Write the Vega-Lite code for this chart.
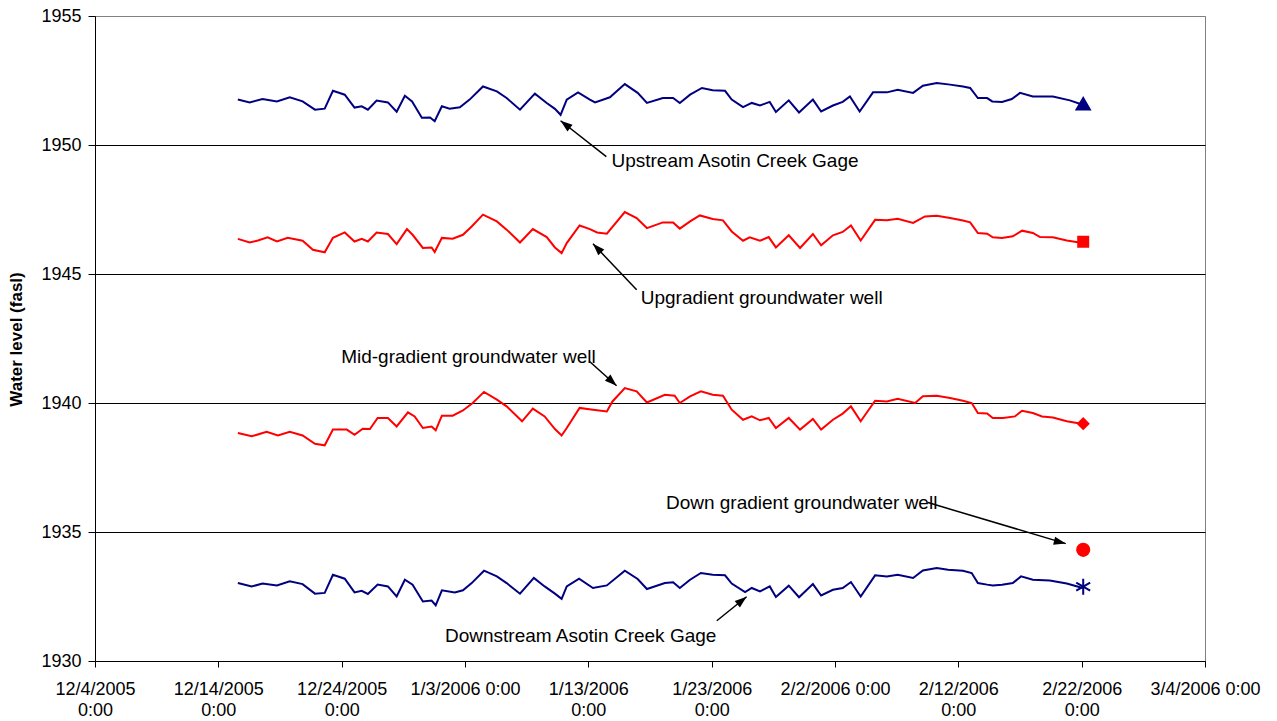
{
  "$schema": "https://vega.github.io/schema/vega-lite/v6.json",
  "width": 1110,
  "height": 645,
  "autosize": "none",
  "padding": {"left": 95, "top": 16, "right": 72, "bottom": 60},
  "background": "white",
  "config": {
    "font": "Liberation Sans",
    "view": {"stroke": "#808080", "strokeWidth": 1},
    "axis": {"labelFont": "Liberation Sans", "titleFont": "Liberation Sans", "labelColor": "black", "titleColor": "black"}
  },
  "datasets": {
    "levels": [
      {"t": "2005-12-15T14:00Z", "s": "Upstream", "v": 1951.76},
      {"t": "2005-12-16T13:00Z", "s": "Upstream", "v": 1951.65},
      {"t": "2005-12-17T14:00Z", "s": "Upstream", "v": 1951.78},
      {"t": "2005-12-18T18:00Z", "s": "Upstream", "v": 1951.69},
      {"t": "2005-12-19T19:00Z", "s": "Upstream", "v": 1951.85},
      {"t": "2005-12-20T20:00Z", "s": "Upstream", "v": 1951.69},
      {"t": "2005-12-21T20:00Z", "s": "Upstream", "v": 1951.37},
      {"t": "2005-12-22T15:00Z", "s": "Upstream", "v": 1951.41},
      {"t": "2005-12-23T07:00Z", "s": "Upstream", "v": 1952.10},
      {"t": "2005-12-24T06:00Z", "s": "Upstream", "v": 1951.95},
      {"t": "2005-12-25T01:00Z", "s": "Upstream", "v": 1951.45},
      {"t": "2005-12-25T15:00Z", "s": "Upstream", "v": 1951.50},
      {"t": "2005-12-26T03:00Z", "s": "Upstream", "v": 1951.37},
      {"t": "2005-12-26T20:00Z", "s": "Upstream", "v": 1951.72},
      {"t": "2005-12-27T18:00Z", "s": "Upstream", "v": 1951.65},
      {"t": "2005-12-28T11:00Z", "s": "Upstream", "v": 1951.29},
      {"t": "2005-12-29T03:00Z", "s": "Upstream", "v": 1951.91},
      {"t": "2005-12-29T17:00Z", "s": "Upstream", "v": 1951.69},
      {"t": "2005-12-30T12:00Z", "s": "Upstream", "v": 1951.06},
      {"t": "2005-12-31T04:00Z", "s": "Upstream", "v": 1951.07},
      {"t": "2005-12-31T13:00Z", "s": "Upstream", "v": 1950.92},
      {"t": "2006-01-01T03:00Z", "s": "Upstream", "v": 1951.50},
      {"t": "2006-01-01T18:00Z", "s": "Upstream", "v": 1951.41},
      {"t": "2006-01-02T14:00Z", "s": "Upstream", "v": 1951.46},
      {"t": "2006-01-03T09:00Z", "s": "Upstream", "v": 1951.76},
      {"t": "2006-01-04T11:00Z", "s": "Upstream", "v": 1952.27},
      {"t": "2006-01-05T14:00Z", "s": "Upstream", "v": 1952.08},
      {"t": "2006-01-06T09:00Z", "s": "Upstream", "v": 1951.82},
      {"t": "2006-01-07T11:00Z", "s": "Upstream", "v": 1951.37},
      {"t": "2006-01-08T16:00Z", "s": "Upstream", "v": 1951.99},
      {"t": "2006-01-09T15:00Z", "s": "Upstream", "v": 1951.63},
      {"t": "2006-01-10T07:00Z", "s": "Upstream", "v": 1951.40},
      {"t": "2006-01-10T18:00Z", "s": "Upstream", "v": 1951.17},
      {"t": "2006-01-11T06:00Z", "s": "Upstream", "v": 1951.76},
      {"t": "2006-01-12T04:00Z", "s": "Upstream", "v": 1952.04},
      {"t": "2006-01-13T03:00Z", "s": "Upstream", "v": 1951.76},
      {"t": "2006-01-13T13:00Z", "s": "Upstream", "v": 1951.65},
      {"t": "2006-01-14T18:00Z", "s": "Upstream", "v": 1951.85},
      {"t": "2006-01-15T23:00Z", "s": "Upstream", "v": 1952.36},
      {"t": "2006-01-17T00:00Z", "s": "Upstream", "v": 1952.02},
      {"t": "2006-01-17T18:00Z", "s": "Upstream", "v": 1951.63},
      {"t": "2006-01-19T01:00Z", "s": "Upstream", "v": 1951.82},
      {"t": "2006-01-19T21:00Z", "s": "Upstream", "v": 1951.82},
      {"t": "2006-01-20T10:00Z", "s": "Upstream", "v": 1951.63},
      {"t": "2006-01-21T06:00Z", "s": "Upstream", "v": 1951.95},
      {"t": "2006-01-22T05:00Z", "s": "Upstream", "v": 1952.21},
      {"t": "2006-01-23T02:00Z", "s": "Upstream", "v": 1952.12},
      {"t": "2006-01-24T02:00Z", "s": "Upstream", "v": 1952.10},
      {"t": "2006-01-24T15:00Z", "s": "Upstream", "v": 1951.76},
      {"t": "2006-01-25T13:00Z", "s": "Upstream", "v": 1951.47},
      {"t": "2006-01-26T06:00Z", "s": "Upstream", "v": 1951.63},
      {"t": "2006-01-26T22:00Z", "s": "Upstream", "v": 1951.53},
      {"t": "2006-01-27T17:00Z", "s": "Upstream", "v": 1951.67},
      {"t": "2006-01-28T05:00Z", "s": "Upstream", "v": 1951.28},
      {"t": "2006-01-29T06:00Z", "s": "Upstream", "v": 1951.73},
      {"t": "2006-01-30T02:00Z", "s": "Upstream", "v": 1951.26},
      {"t": "2006-01-31T05:00Z", "s": "Upstream", "v": 1951.76},
      {"t": "2006-01-31T21:00Z", "s": "Upstream", "v": 1951.30},
      {"t": "2006-02-01T20:00Z", "s": "Upstream", "v": 1951.53},
      {"t": "2006-02-02T15:00Z", "s": "Upstream", "v": 1951.67},
      {"t": "2006-02-03T05:00Z", "s": "Upstream", "v": 1951.88},
      {"t": "2006-02-04T00:00Z", "s": "Upstream", "v": 1951.30},
      {"t": "2006-02-05T02:00Z", "s": "Upstream", "v": 1952.04},
      {"t": "2006-02-06T05:00Z", "s": "Upstream", "v": 1952.04},
      {"t": "2006-02-07T02:00Z", "s": "Upstream", "v": 1952.14},
      {"t": "2006-02-08T08:00Z", "s": "Upstream", "v": 1952.02},
      {"t": "2006-02-09T03:00Z", "s": "Upstream", "v": 1952.30},
      {"t": "2006-02-10T06:00Z", "s": "Upstream", "v": 1952.40},
      {"t": "2006-02-11T08:00Z", "s": "Upstream", "v": 1952.34},
      {"t": "2006-02-12T09:00Z", "s": "Upstream", "v": 1952.27},
      {"t": "2006-02-12T23:00Z", "s": "Upstream", "v": 1952.21},
      {"t": "2006-02-13T14:00Z", "s": "Upstream", "v": 1951.82},
      {"t": "2006-02-14T08:00Z", "s": "Upstream", "v": 1951.82},
      {"t": "2006-02-14T18:00Z", "s": "Upstream", "v": 1951.69},
      {"t": "2006-02-15T13:00Z", "s": "Upstream", "v": 1951.67},
      {"t": "2006-02-16T08:00Z", "s": "Upstream", "v": 1951.78},
      {"t": "2006-02-17T00:00Z", "s": "Upstream", "v": 1952.02},
      {"t": "2006-02-18T01:00Z", "s": "Upstream", "v": 1951.88},
      {"t": "2006-02-19T16:00Z", "s": "Upstream", "v": 1951.88},
      {"t": "2006-02-21T01:00Z", "s": "Upstream", "v": 1951.73},
      {"t": "2006-02-22T02:00Z", "s": "Upstream", "v": 1951.56},

      {"t": "2005-12-15T14:00Z", "s": "Upgradient", "v": 1946.36},
      {"t": "2005-12-16T13:00Z", "s": "Upgradient", "v": 1946.22},
      {"t": "2005-12-17T05:00Z", "s": "Upgradient", "v": 1946.30},
      {"t": "2005-12-18T00:00Z", "s": "Upgradient", "v": 1946.42},
      {"t": "2005-12-18T18:00Z", "s": "Upgradient", "v": 1946.26},
      {"t": "2005-12-19T15:00Z", "s": "Upgradient", "v": 1946.40},
      {"t": "2005-12-20T20:00Z", "s": "Upgradient", "v": 1946.29},
      {"t": "2005-12-21T16:00Z", "s": "Upgradient", "v": 1945.94},
      {"t": "2005-12-22T15:00Z", "s": "Upgradient", "v": 1945.84},
      {"t": "2005-12-23T07:00Z", "s": "Upgradient", "v": 1946.40},
      {"t": "2005-12-24T06:00Z", "s": "Upgradient", "v": 1946.61},
      {"t": "2005-12-25T01:00Z", "s": "Upgradient", "v": 1946.26},
      {"t": "2005-12-25T15:00Z", "s": "Upgradient", "v": 1946.36},
      {"t": "2005-12-26T03:00Z", "s": "Upgradient", "v": 1946.26},
      {"t": "2005-12-26T20:00Z", "s": "Upgradient", "v": 1946.61},
      {"t": "2005-12-27T18:00Z", "s": "Upgradient", "v": 1946.55},
      {"t": "2005-12-28T11:00Z", "s": "Upgradient", "v": 1946.16},
      {"t": "2005-12-29T07:00Z", "s": "Upgradient", "v": 1946.74},
      {"t": "2005-12-29T18:00Z", "s": "Upgradient", "v": 1946.52},
      {"t": "2005-12-30T14:00Z", "s": "Upgradient", "v": 1946.01},
      {"t": "2005-12-31T07:00Z", "s": "Upgradient", "v": 1946.03},
      {"t": "2005-12-31T13:00Z", "s": "Upgradient", "v": 1945.85},
      {"t": "2006-01-01T03:00Z", "s": "Upgradient", "v": 1946.40},
      {"t": "2006-01-02T00:00Z", "s": "Upgradient", "v": 1946.37},
      {"t": "2006-01-02T20:00Z", "s": "Upgradient", "v": 1946.52},
      {"t": "2006-01-03T13:00Z", "s": "Upgradient", "v": 1946.84},
      {"t": "2006-01-04T11:00Z", "s": "Upgradient", "v": 1947.30},
      {"t": "2006-01-05T14:00Z", "s": "Upgradient", "v": 1947.04},
      {"t": "2006-01-06T09:00Z", "s": "Upgradient", "v": 1946.72},
      {"t": "2006-01-07T11:00Z", "s": "Upgradient", "v": 1946.22},
      {"t": "2006-01-08T12:00Z", "s": "Upgradient", "v": 1946.74},
      {"t": "2006-01-09T15:00Z", "s": "Upgradient", "v": 1946.43},
      {"t": "2006-01-10T07:00Z", "s": "Upgradient", "v": 1946.03},
      {"t": "2006-01-10T20:00Z", "s": "Upgradient", "v": 1945.81},
      {"t": "2006-01-11T06:00Z", "s": "Upgradient", "v": 1946.20},
      {"t": "2006-01-12T07:00Z", "s": "Upgradient", "v": 1946.88},
      {"t": "2006-01-13T03:00Z", "s": "Upgradient", "v": 1946.74},
      {"t": "2006-01-13T17:00Z", "s": "Upgradient", "v": 1946.61},
      {"t": "2006-01-14T12:00Z", "s": "Upgradient", "v": 1946.56},
      {"t": "2006-01-15T23:00Z", "s": "Upgradient", "v": 1947.40},
      {"t": "2006-01-16T22:00Z", "s": "Upgradient", "v": 1947.17},
      {"t": "2006-01-17T18:00Z", "s": "Upgradient", "v": 1946.78},
      {"t": "2006-01-19T01:00Z", "s": "Upgradient", "v": 1947.00},
      {"t": "2006-01-19T21:00Z", "s": "Upgradient", "v": 1947.00},
      {"t": "2006-01-20T10:00Z", "s": "Upgradient", "v": 1946.76},
      {"t": "2006-01-21T06:00Z", "s": "Upgradient", "v": 1947.04},
      {"t": "2006-01-22T01:00Z", "s": "Upgradient", "v": 1947.27},
      {"t": "2006-01-23T02:00Z", "s": "Upgradient", "v": 1947.13},
      {"t": "2006-01-23T22:00Z", "s": "Upgradient", "v": 1947.08},
      {"t": "2006-01-24T15:00Z", "s": "Upgradient", "v": 1946.65},
      {"t": "2006-01-25T13:00Z", "s": "Upgradient", "v": 1946.29},
      {"t": "2006-01-26T02:00Z", "s": "Upgradient", "v": 1946.42},
      {"t": "2006-01-26T22:00Z", "s": "Upgradient", "v": 1946.29},
      {"t": "2006-01-27T15:00Z", "s": "Upgradient", "v": 1946.43},
      {"t": "2006-01-28T05:00Z", "s": "Upgradient", "v": 1946.03},
      {"t": "2006-01-29T06:00Z", "s": "Upgradient", "v": 1946.50},
      {"t": "2006-01-30T04:00Z", "s": "Upgradient", "v": 1946.01},
      {"t": "2006-01-31T05:00Z", "s": "Upgradient", "v": 1946.55},
      {"t": "2006-01-31T21:00Z", "s": "Upgradient", "v": 1946.11},
      {"t": "2006-02-01T20:00Z", "s": "Upgradient", "v": 1946.50},
      {"t": "2006-02-02T15:00Z", "s": "Upgradient", "v": 1946.63},
      {"t": "2006-02-03T07:00Z", "s": "Upgradient", "v": 1946.88},
      {"t": "2006-02-04T02:00Z", "s": "Upgradient", "v": 1946.30},
      {"t": "2006-02-05T06:00Z", "s": "Upgradient", "v": 1947.10},
      {"t": "2006-02-06T05:00Z", "s": "Upgradient", "v": 1947.08},
      {"t": "2006-02-07T02:00Z", "s": "Upgradient", "v": 1947.14},
      {"t": "2006-02-08T08:00Z", "s": "Upgradient", "v": 1946.98},
      {"t": "2006-02-09T07:00Z", "s": "Upgradient", "v": 1947.23},
      {"t": "2006-02-10T06:00Z", "s": "Upgradient", "v": 1947.26},
      {"t": "2006-02-11T08:00Z", "s": "Upgradient", "v": 1947.17},
      {"t": "2006-02-12T09:00Z", "s": "Upgradient", "v": 1947.07},
      {"t": "2006-02-12T23:00Z", "s": "Upgradient", "v": 1947.00},
      {"t": "2006-02-13T14:00Z", "s": "Upgradient", "v": 1946.59},
      {"t": "2006-02-14T08:00Z", "s": "Upgradient", "v": 1946.56},
      {"t": "2006-02-14T19:00Z", "s": "Upgradient", "v": 1946.42},
      {"t": "2006-02-15T13:00Z", "s": "Upgradient", "v": 1946.40},
      {"t": "2006-02-16T10:00Z", "s": "Upgradient", "v": 1946.46},
      {"t": "2006-02-17T04:00Z", "s": "Upgradient", "v": 1946.68},
      {"t": "2006-02-18T01:00Z", "s": "Upgradient", "v": 1946.59},
      {"t": "2006-02-18T15:00Z", "s": "Upgradient", "v": 1946.43},
      {"t": "2006-02-19T16:00Z", "s": "Upgradient", "v": 1946.42},
      {"t": "2006-02-20T19:00Z", "s": "Upgradient", "v": 1946.30},
      {"t": "2006-02-22T02:00Z", "s": "Upgradient", "v": 1946.20},

      {"t": "2005-12-15T14:00Z", "s": "Midgradient", "v": 1938.84},
      {"t": "2005-12-16T17:00Z", "s": "Midgradient", "v": 1938.71},
      {"t": "2005-12-17T22:00Z", "s": "Midgradient", "v": 1938.88},
      {"t": "2005-12-18T20:00Z", "s": "Midgradient", "v": 1938.74},
      {"t": "2005-12-19T19:00Z", "s": "Midgradient", "v": 1938.88},
      {"t": "2005-12-20T20:00Z", "s": "Midgradient", "v": 1938.74},
      {"t": "2005-12-21T20:00Z", "s": "Midgradient", "v": 1938.42},
      {"t": "2005-12-22T15:00Z", "s": "Midgradient", "v": 1938.36},
      {"t": "2005-12-23T07:00Z", "s": "Midgradient", "v": 1938.97},
      {"t": "2005-12-24T10:00Z", "s": "Midgradient", "v": 1938.97},
      {"t": "2005-12-25T01:00Z", "s": "Midgradient", "v": 1938.77},
      {"t": "2005-12-25T17:00Z", "s": "Midgradient", "v": 1939.00},
      {"t": "2005-12-26T07:00Z", "s": "Midgradient", "v": 1938.99},
      {"t": "2005-12-26T22:00Z", "s": "Midgradient", "v": 1939.42},
      {"t": "2005-12-27T18:00Z", "s": "Midgradient", "v": 1939.42},
      {"t": "2005-12-28T11:00Z", "s": "Midgradient", "v": 1939.09},
      {"t": "2005-12-29T09:00Z", "s": "Midgradient", "v": 1939.64},
      {"t": "2005-12-29T22:00Z", "s": "Midgradient", "v": 1939.48},
      {"t": "2005-12-30T14:00Z", "s": "Midgradient", "v": 1939.03},
      {"t": "2005-12-31T07:00Z", "s": "Midgradient", "v": 1939.09},
      {"t": "2005-12-31T15:00Z", "s": "Midgradient", "v": 1938.94},
      {"t": "2006-01-01T03:00Z", "s": "Midgradient", "v": 1939.51},
      {"t": "2006-01-02T00:00Z", "s": "Midgradient", "v": 1939.51},
      {"t": "2006-01-02T20:00Z", "s": "Midgradient", "v": 1939.71},
      {"t": "2006-01-03T15:00Z", "s": "Midgradient", "v": 1940.00},
      {"t": "2006-01-04T13:00Z", "s": "Midgradient", "v": 1940.43},
      {"t": "2006-01-05T14:00Z", "s": "Midgradient", "v": 1940.13},
      {"t": "2006-01-06T09:00Z", "s": "Midgradient", "v": 1939.87},
      {"t": "2006-01-07T15:00Z", "s": "Midgradient", "v": 1939.29},
      {"t": "2006-01-08T12:00Z", "s": "Midgradient", "v": 1939.78},
      {"t": "2006-01-09T11:00Z", "s": "Midgradient", "v": 1939.48},
      {"t": "2006-01-10T07:00Z", "s": "Midgradient", "v": 1938.99},
      {"t": "2006-01-10T20:00Z", "s": "Midgradient", "v": 1938.74},
      {"t": "2006-01-11T06:00Z", "s": "Midgradient", "v": 1939.03},
      {"t": "2006-01-12T07:00Z", "s": "Midgradient", "v": 1939.81},
      {"t": "2006-01-13T09:00Z", "s": "Midgradient", "v": 1939.74},
      {"t": "2006-01-14T12:00Z", "s": "Midgradient", "v": 1939.67},
      {"t": "2006-01-14T23:00Z", "s": "Midgradient", "v": 1940.06},
      {"t": "2006-01-15T23:00Z", "s": "Midgradient", "v": 1940.58},
      {"t": "2006-01-16T22:00Z", "s": "Midgradient", "v": 1940.45},
      {"t": "2006-01-17T18:00Z", "s": "Midgradient", "v": 1940.02},
      {"t": "2006-01-19T05:00Z", "s": "Midgradient", "v": 1940.32},
      {"t": "2006-01-20T00:00Z", "s": "Midgradient", "v": 1940.28},
      {"t": "2006-01-20T10:00Z", "s": "Midgradient", "v": 1940.00},
      {"t": "2006-01-21T06:00Z", "s": "Midgradient", "v": 1940.26},
      {"t": "2006-01-22T03:00Z", "s": "Midgradient", "v": 1940.45},
      {"t": "2006-01-23T02:00Z", "s": "Midgradient", "v": 1940.32},
      {"t": "2006-01-23T22:00Z", "s": "Midgradient", "v": 1940.28},
      {"t": "2006-01-24T15:00Z", "s": "Midgradient", "v": 1939.74},
      {"t": "2006-01-25T13:00Z", "s": "Midgradient", "v": 1939.35},
      {"t": "2006-01-26T06:00Z", "s": "Midgradient", "v": 1939.48},
      {"t": "2006-01-26T22:00Z", "s": "Midgradient", "v": 1939.33},
      {"t": "2006-01-27T15:00Z", "s": "Midgradient", "v": 1939.42},
      {"t": "2006-01-28T05:00Z", "s": "Midgradient", "v": 1939.03},
      {"t": "2006-01-29T06:00Z", "s": "Midgradient", "v": 1939.42},
      {"t": "2006-01-30T04:00Z", "s": "Midgradient", "v": 1938.97},
      {"t": "2006-01-31T05:00Z", "s": "Midgradient", "v": 1939.38},
      {"t": "2006-01-31T21:00Z", "s": "Midgradient", "v": 1938.97},
      {"t": "2006-02-01T20:00Z", "s": "Midgradient", "v": 1939.35},
      {"t": "2006-02-02T15:00Z", "s": "Midgradient", "v": 1939.59},
      {"t": "2006-02-03T07:00Z", "s": "Midgradient", "v": 1939.87},
      {"t": "2006-02-04T02:00Z", "s": "Midgradient", "v": 1939.29},
      {"t": "2006-02-05T06:00Z", "s": "Midgradient", "v": 1940.09},
      {"t": "2006-02-06T05:00Z", "s": "Midgradient", "v": 1940.06},
      {"t": "2006-02-07T02:00Z", "s": "Midgradient", "v": 1940.16},
      {"t": "2006-02-08T12:00Z", "s": "Midgradient", "v": 1940.00},
      {"t": "2006-02-09T03:00Z", "s": "Midgradient", "v": 1940.26},
      {"t": "2006-02-10T06:00Z", "s": "Midgradient", "v": 1940.28},
      {"t": "2006-02-11T08:00Z", "s": "Midgradient", "v": 1940.19},
      {"t": "2006-02-12T09:00Z", "s": "Midgradient", "v": 1940.09},
      {"t": "2006-02-13T02:00Z", "s": "Midgradient", "v": 1940.00},
      {"t": "2006-02-13T14:00Z", "s": "Midgradient", "v": 1939.61},
      {"t": "2006-02-14T08:00Z", "s": "Midgradient", "v": 1939.59},
      {"t": "2006-02-14T19:00Z", "s": "Midgradient", "v": 1939.42},
      {"t": "2006-02-15T15:00Z", "s": "Midgradient", "v": 1939.42},
      {"t": "2006-02-16T14:00Z", "s": "Midgradient", "v": 1939.48},
      {"t": "2006-02-17T04:00Z", "s": "Midgradient", "v": 1939.70},
      {"t": "2006-02-18T01:00Z", "s": "Midgradient", "v": 1939.61},
      {"t": "2006-02-18T19:00Z", "s": "Midgradient", "v": 1939.48},
      {"t": "2006-02-19T16:00Z", "s": "Midgradient", "v": 1939.44},
      {"t": "2006-02-20T19:00Z", "s": "Midgradient", "v": 1939.29},
      {"t": "2006-02-22T02:00Z", "s": "Midgradient", "v": 1939.19},

      {"t": "2005-12-15T14:00Z", "s": "Downstream", "v": 1933.02},
      {"t": "2005-12-16T17:00Z", "s": "Downstream", "v": 1932.89},
      {"t": "2005-12-17T14:00Z", "s": "Downstream", "v": 1933.00},
      {"t": "2005-12-18T18:00Z", "s": "Downstream", "v": 1932.93},
      {"t": "2005-12-19T19:00Z", "s": "Downstream", "v": 1933.09},
      {"t": "2005-12-20T20:00Z", "s": "Downstream", "v": 1932.98},
      {"t": "2005-12-21T20:00Z", "s": "Downstream", "v": 1932.61},
      {"t": "2005-12-22T15:00Z", "s": "Downstream", "v": 1932.64},
      {"t": "2005-12-23T07:00Z", "s": "Downstream", "v": 1933.34},
      {"t": "2005-12-24T06:00Z", "s": "Downstream", "v": 1933.19},
      {"t": "2005-12-25T01:00Z", "s": "Downstream", "v": 1932.66},
      {"t": "2005-12-25T15:00Z", "s": "Downstream", "v": 1932.72},
      {"t": "2005-12-26T03:00Z", "s": "Downstream", "v": 1932.60},
      {"t": "2005-12-26T22:00Z", "s": "Downstream", "v": 1932.96},
      {"t": "2005-12-27T18:00Z", "s": "Downstream", "v": 1932.89},
      {"t": "2005-12-28T11:00Z", "s": "Downstream", "v": 1932.50},
      {"t": "2005-12-29T03:00Z", "s": "Downstream", "v": 1933.15},
      {"t": "2005-12-29T18:00Z", "s": "Downstream", "v": 1932.96},
      {"t": "2005-12-30T14:00Z", "s": "Downstream", "v": 1932.31},
      {"t": "2005-12-31T07:00Z", "s": "Downstream", "v": 1932.34},
      {"t": "2005-12-31T15:00Z", "s": "Downstream", "v": 1932.16},
      {"t": "2006-01-01T03:00Z", "s": "Downstream", "v": 1932.74},
      {"t": "2006-01-02T04:00Z", "s": "Downstream", "v": 1932.66},
      {"t": "2006-01-02T20:00Z", "s": "Downstream", "v": 1932.74},
      {"t": "2006-01-03T13:00Z", "s": "Downstream", "v": 1933.02},
      {"t": "2006-01-04T13:00Z", "s": "Downstream", "v": 1933.50},
      {"t": "2006-01-05T14:00Z", "s": "Downstream", "v": 1933.28},
      {"t": "2006-01-06T09:00Z", "s": "Downstream", "v": 1933.02},
      {"t": "2006-01-07T11:00Z", "s": "Downstream", "v": 1932.61},
      {"t": "2006-01-08T14:00Z", "s": "Downstream", "v": 1933.22},
      {"t": "2006-01-09T11:00Z", "s": "Downstream", "v": 1932.89},
      {"t": "2006-01-10T07:00Z", "s": "Downstream", "v": 1932.61},
      {"t": "2006-01-10T20:00Z", "s": "Downstream", "v": 1932.41},
      {"t": "2006-01-11T06:00Z", "s": "Downstream", "v": 1932.89},
      {"t": "2006-01-12T06:00Z", "s": "Downstream", "v": 1933.19},
      {"t": "2006-01-13T09:00Z", "s": "Downstream", "v": 1932.83},
      {"t": "2006-01-14T12:00Z", "s": "Downstream", "v": 1932.93},
      {"t": "2006-01-15T23:00Z", "s": "Downstream", "v": 1933.50},
      {"t": "2006-01-17T00:00Z", "s": "Downstream", "v": 1933.18},
      {"t": "2006-01-17T18:00Z", "s": "Downstream", "v": 1932.79},
      {"t": "2006-01-19T05:00Z", "s": "Downstream", "v": 1933.02},
      {"t": "2006-01-19T21:00Z", "s": "Downstream", "v": 1933.05},
      {"t": "2006-01-20T10:00Z", "s": "Downstream", "v": 1932.83},
      {"t": "2006-01-21T06:00Z", "s": "Downstream", "v": 1933.15},
      {"t": "2006-01-22T03:00Z", "s": "Downstream", "v": 1933.41},
      {"t": "2006-01-23T02:00Z", "s": "Downstream", "v": 1933.34},
      {"t": "2006-01-24T02:00Z", "s": "Downstream", "v": 1933.32},
      {"t": "2006-01-24T15:00Z", "s": "Downstream", "v": 1933.00},
      {"t": "2006-01-25T17:00Z", "s": "Downstream", "v": 1932.67},
      {"t": "2006-01-26T06:00Z", "s": "Downstream", "v": 1932.83},
      {"t": "2006-01-26T22:00Z", "s": "Downstream", "v": 1932.70},
      {"t": "2006-01-27T17:00Z", "s": "Downstream", "v": 1932.89},
      {"t": "2006-01-28T05:00Z", "s": "Downstream", "v": 1932.48},
      {"t": "2006-01-29T06:00Z", "s": "Downstream", "v": 1932.92},
      {"t": "2006-01-30T02:00Z", "s": "Downstream", "v": 1932.47},
      {"t": "2006-01-31T05:00Z", "s": "Downstream", "v": 1932.98},
      {"t": "2006-01-31T21:00Z", "s": "Downstream", "v": 1932.54},
      {"t": "2006-02-01T20:00Z", "s": "Downstream", "v": 1932.76},
      {"t": "2006-02-02T15:00Z", "s": "Downstream", "v": 1932.83},
      {"t": "2006-02-03T07:00Z", "s": "Downstream", "v": 1933.06},
      {"t": "2006-02-04T02:00Z", "s": "Downstream", "v": 1932.50},
      {"t": "2006-02-05T06:00Z", "s": "Downstream", "v": 1933.32},
      {"t": "2006-02-06T05:00Z", "s": "Downstream", "v": 1933.28},
      {"t": "2006-02-07T02:00Z", "s": "Downstream", "v": 1933.34},
      {"t": "2006-02-08T08:00Z", "s": "Downstream", "v": 1933.22},
      {"t": "2006-02-09T03:00Z", "s": "Downstream", "v": 1933.51},
      {"t": "2006-02-10T06:00Z", "s": "Downstream", "v": 1933.60},
      {"t": "2006-02-11T04:00Z", "s": "Downstream", "v": 1933.54},
      {"t": "2006-02-12T09:00Z", "s": "Downstream", "v": 1933.50},
      {"t": "2006-02-13T02:00Z", "s": "Downstream", "v": 1933.41},
      {"t": "2006-02-13T14:00Z", "s": "Downstream", "v": 1933.02},
      {"t": "2006-02-14T08:00Z", "s": "Downstream", "v": 1932.96},
      {"t": "2006-02-14T19:00Z", "s": "Downstream", "v": 1932.93},
      {"t": "2006-02-15T13:00Z", "s": "Downstream", "v": 1932.96},
      {"t": "2006-02-16T10:00Z", "s": "Downstream", "v": 1933.02},
      {"t": "2006-02-17T02:00Z", "s": "Downstream", "v": 1933.28},
      {"t": "2006-02-18T01:00Z", "s": "Downstream", "v": 1933.15},
      {"t": "2006-02-19T10:00Z", "s": "Downstream", "v": 1933.12},
      {"t": "2006-02-20T19:00Z", "s": "Downstream", "v": 1933.00},
      {"t": "2006-02-22T02:00Z", "s": "Downstream", "v": 1932.83}
    ],
    "markers": [
      {"t": "2006-02-22T03:00Z", "s": "Upstream", "v": 1951.62},
      {"t": "2006-02-22T03:00Z", "s": "Upgradient", "v": 1946.25},
      {"t": "2006-02-22T03:00Z", "s": "Midgradient", "v": 1939.20},
      {"t": "2006-02-22T03:00Z", "s": "Downgradient", "v": 1934.31},
      {"t": "2006-02-22T03:00Z", "s": "Downstream", "v": 1932.88}
    ],
    "arrows": [
      {"id": 1, "t": "2006-01-14T11:00Z", "v": 1949.55, "t2": "2006-01-10T18:00Z", "v2": 1950.94},
      {"id": 2, "t": "2006-01-16T22:00Z", "v": 1944.39, "t2": "2006-01-13T09:00Z", "v2": 1946.17},
      {"id": 3, "t": "2006-01-13T03:00Z", "v": 1941.60, "t2": "2006-01-15T07:00Z", "v2": 1940.67},
      {"id": 4, "t": "2006-02-09T13:00Z", "v": 1936.14, "t2": "2006-02-20T17:00Z", "v2": 1934.55},
      {"id": 5, "t": "2006-01-23T10:00Z", "v": 1931.56, "t2": "2006-01-25T20:00Z", "v2": 1932.49}
    ],
    "labels": [
      {"t": "2006-01-14T21:00Z", "v": 1949.39, "text": "Upstream Asotin Creek Gage"},
      {"t": "2006-01-17T06:00Z", "v": 1944.08, "text": "Upgradient groundwater well"},
      {"t": "2005-12-23T23:00Z", "v": 1941.79, "text": "Mid-gradient groundwater well"},
      {"t": "2006-01-19T07:00Z", "v": 1936.14, "text": "Down gradient groundwater well"},
      {"t": "2006-01-01T09:00Z", "v": 1930.98, "text": "Downstream Asotin Creek Gage"}
    ]
  },
  "layer": [
    {
      "data": {"name": "levels"},
      "mark": {"type": "line", "strokeWidth": 2, "interpolate": "linear"},
      "encoding": {
        "x": {
          "field": "t", "type": "temporal",
          "scale": {"type": "utc", "nice": false,
            "domain": [{"year": 2005, "month": 12, "date": 4, "utc": true}, {"year": 2006, "month": 3, "date": 4, "utc": true}]},
          "axis": {
            "title": null,
            "grid": false,
            "values": [
              {"year": 2005, "month": 12, "date": 4, "utc": true},
              {"year": 2005, "month": 12, "date": 14, "utc": true},
              {"year": 2005, "month": 12, "date": 24, "utc": true},
              {"year": 2006, "month": 1, "date": 3, "utc": true},
              {"year": 2006, "month": 1, "date": 13, "utc": true},
              {"year": 2006, "month": 1, "date": 23, "utc": true},
              {"year": 2006, "month": 2, "date": 2, "utc": true},
              {"year": 2006, "month": 2, "date": 12, "utc": true},
              {"year": 2006, "month": 2, "date": 22, "utc": true},
              {"year": 2006, "month": 3, "date": 4, "utc": true}
            ],
            "labelExpr": "length(utcFormat(datum.value, '%-m/%-d/%Y')) <= 8 ? utcFormat(datum.value, '%-m/%-d/%Y') + ' 0:00' : [utcFormat(datum.value, '%-m/%-d/%Y'), '0:00']",
            "labelFontSize": 18,
            "labelLineHeight": 21,
            "labelBaseline": "top",
            "labelAlign": "center",
            "labelPadding": 13,
            "labelFlush": false,
            "labelOverlap": false,
            "labelBound": false,
            "tickSize": 6,
            "tickColor": "black",
            "domainColor": "black",
            "domainWidth": 1
          }
        },
        "y": {
          "field": "v", "type": "quantitative",
          "scale": {"domain": [1930, 1955], "nice": false, "zero": false},
          "axis": {
            "title": "Water level (fasl)",
            "titleFontSize": 17,
            "titleFontWeight": "bold",
            "titleX": -70,
            "titleY": 323,
            "titleAngle": -90,
            "titleAlign": "center",
            "values": [1930, 1935, 1940, 1945, 1950, 1955],
            "format": "d",
            "labelFontSize": 18,
            "labelPadding": 7,
            "tickSize": 7,
            "tickColor": "black",
            "domainColor": "black",
            "grid": true,
            "gridColor": {"condition": {"test": "datum.value == 1955", "value": "#808080"}, "value": "black"},
            "gridWidth": 1
          }
        },
        "color": {
          "field": "s", "type": "nominal", "legend": null,
          "scale": {"domain": ["Upstream", "Upgradient", "Midgradient", "Downgradient", "Downstream"],
                    "range": ["#000080", "#FF0000", "#FF0000", "#FF0000", "#000080"]}
        }
      }
    },
    {
      "data": {"name": "markers"},
      "transform": [{"filter": "datum.s == 'Upstream'"}],
      "mark": {"type": "point", "filled": true, "opacity": 1, "shape": "triangle-up", "size": 280, "color": "#000080"},
      "encoding": {"x": {"field": "t", "type": "temporal"}, "y": {"field": "v", "type": "quantitative"}}
    },
    {
      "data": {"name": "markers"},
      "transform": [{"filter": "datum.s == 'Upgradient'"}],
      "mark": {"type": "point", "filled": true, "opacity": 1, "shape": "square", "size": 144, "color": "#FF0000"},
      "encoding": {"x": {"field": "t", "type": "temporal"}, "y": {"field": "v", "type": "quantitative"}}
    },
    {
      "data": {"name": "markers"},
      "transform": [{"filter": "datum.s == 'Midgradient'"}],
      "mark": {"type": "point", "filled": true, "opacity": 1, "shape": "diamond", "size": 175, "color": "#FF0000"},
      "encoding": {"x": {"field": "t", "type": "temporal"}, "y": {"field": "v", "type": "quantitative"}}
    },
    {
      "data": {"name": "markers"},
      "transform": [{"filter": "datum.s == 'Downgradient'"}],
      "mark": {"type": "point", "filled": true, "opacity": 1, "shape": "circle", "size": 200, "color": "#FF0000"},
      "encoding": {"x": {"field": "t", "type": "temporal"}, "y": {"field": "v", "type": "quantitative"}}
    },
    {
      "data": {"name": "markers"},
      "transform": [{"filter": "datum.s == 'Downstream'"}],
      "mark": {"type": "point", "filled": false, "opacity": 1, "strokeWidth": 2, "color": "#000080",
               "shape": "M0,-1L0,1M-0.87,-0.5L0.87,0.5M-0.87,0.5L0.87,-0.5", "size": 256},
      "encoding": {"x": {"field": "t", "type": "temporal"}, "y": {"field": "v", "type": "quantitative"}}
    },
    {
      "data": {"name": "arrows"},
      "mark": {"type": "rule", "color": "black", "strokeWidth": 1.5},
      "encoding": {
        "x": {"field": "t", "type": "temporal"},
        "y": {"field": "v", "type": "quantitative"},
        "x2": {"field": "t2"},
        "y2": {"field": "v2"}
      }
    },
    {
      "data": {"name": "arrows"},
      "transform": [{"filter": "datum.id == 1"}],
      "mark": {"type": "point", "filled": true, "color": "black", "opacity": 1, "shape": "M0,0L-0.45,1.3L0.45,1.3Z", "size": 340, "angle": 308},
      "encoding": {"x": {"field": "t2", "type": "temporal"}, "y": {"field": "v2", "type": "quantitative"}}
    },
    {
      "data": {"name": "arrows"},
      "transform": [{"filter": "datum.id == 2"}],
      "mark": {"type": "point", "filled": true, "color": "black", "opacity": 1, "shape": "M0,0L-0.45,1.3L0.45,1.3Z", "size": 340, "angle": 316},
      "encoding": {"x": {"field": "t2", "type": "temporal"}, "y": {"field": "v2", "type": "quantitative"}}
    },
    {
      "data": {"name": "arrows"},
      "transform": [{"filter": "datum.id == 3"}],
      "mark": {"type": "point", "filled": true, "color": "black", "opacity": 1, "shape": "M0,0L-0.45,1.3L0.45,1.3Z", "size": 340, "angle": 132},
      "encoding": {"x": {"field": "t2", "type": "temporal"}, "y": {"field": "v2", "type": "quantitative"}}
    },
    {
      "data": {"name": "arrows"},
      "transform": [{"filter": "datum.id == 4"}],
      "mark": {"type": "point", "filled": true, "color": "black", "opacity": 1, "shape": "M0,0L-0.45,1.3L0.45,1.3Z", "size": 340, "angle": 104},
      "encoding": {"x": {"field": "t2", "type": "temporal"}, "y": {"field": "v2", "type": "quantitative"}}
    },
    {
      "data": {"name": "arrows"},
      "transform": [{"filter": "datum.id == 5"}],
      "mark": {"type": "point", "filled": true, "color": "black", "opacity": 1, "shape": "M0,0L-0.45,1.3L0.45,1.3Z", "size": 340, "angle": 51},
      "encoding": {"x": {"field": "t2", "type": "temporal"}, "y": {"field": "v2", "type": "quantitative"}}
    },
    {
      "data": {"name": "labels"},
      "mark": {"type": "text", "align": "left", "baseline": "middle", "fontSize": 19, "font": "Liberation Sans", "color": "black"},
      "encoding": {
        "x": {"field": "t", "type": "temporal"},
        "y": {"field": "v", "type": "quantitative"},
        "text": {"field": "text"}
      }
    }
  ]
}
